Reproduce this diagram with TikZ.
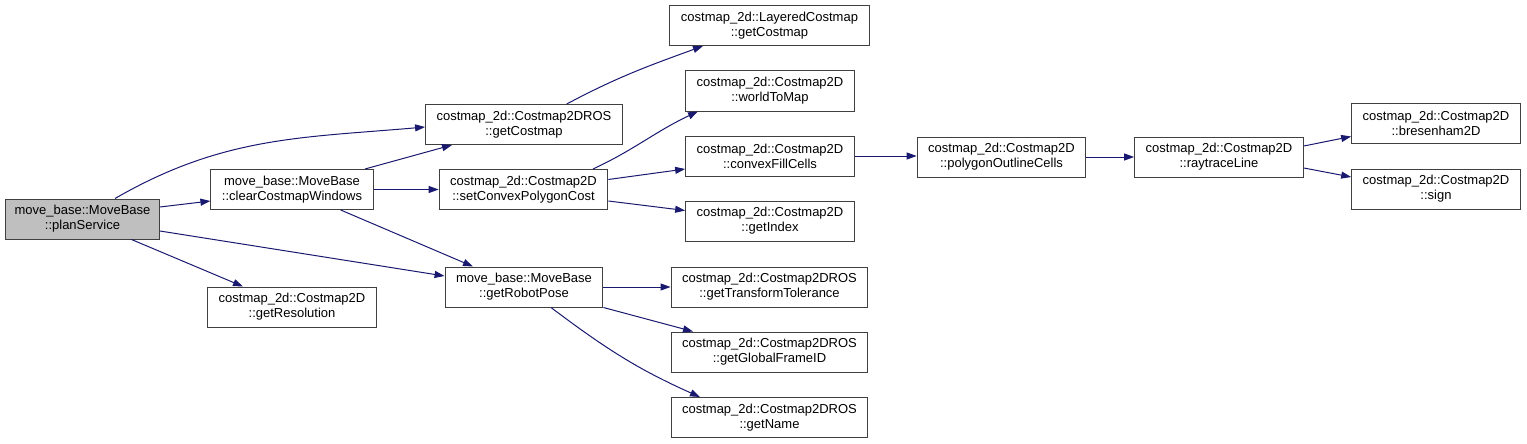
\documentclass[tikz,border=0pt]{standalone}
\usepackage{fontspec}
\setmainfont{Liberation Sans}
\usepackage{tikz}
\usetikzlibrary{arrows.meta}
\definecolor{calledge}{HTML}{191970}
\definecolor{mainfill}{HTML}{BFBFBF}

\begin{document}
\begin{tikzpicture}
 [x=1pt, y=-1pt, >={Triangle[length=10pt,width=7pt]},
  main node/.style={rectangle,fill=mainfill,draw=black!75,line width=1pt,align=center,
    minimum height=40pt,inner xsep=11pt,font=\fontsize{13}{15}\selectfont},
  normal node/.style={main node,fill=white},
  call edge/.style={->,draw=calledge,line width=1pt}]

\useasboundingbox (0,0) rectangle (1527,444);

\node[main node, inner xsep=9pt] (plan) at (82.5,219) {move\_base::MoveBase\\::planService};
\node[normal node] (clear) at (292,189.5) {move\_base::MoveBase\\::clearCostmapWindows};
\node[normal node] (res) at (292,307) {costmap\_2d::Costmap2D\\::getResolution};
\node[normal node] (rosmap) at (524,124.5) {costmap\_2d::Costmap2DROS\\::getCostmap};
\node[normal node] (setcost) at (523.5,189.5) {costmap\_2d::Costmap2D\\::setConvexPolygonCost};
\node[normal node] (pose) at (524,287) {move\_base::MoveBase\\::getRobotPose};
\node[normal node] (layered) at (769.5,25.5) {costmap\_2d::LayeredCostmap\\::getCostmap};
\node[normal node] (w2m) at (770,91) {costmap\_2d::Costmap2D\\::worldToMap};
\node[normal node] (fill) at (770,156) {costmap\_2d::Costmap2D\\::convexFillCells};
\node[normal node] (index) at (770,221) {costmap\_2d::Costmap2D\\::getIndex};
\node[normal node] (tol) at (769.5,287) {costmap\_2d::Costmap2DROS\\::getTransformTolerance};
\node[normal node] (frame) at (769.5,352) {costmap\_2d::Costmap2DROS\\::getGlobalFrameID};
\node[normal node] (name) at (769.5,417.5) {costmap\_2d::Costmap2DROS\\::getName};
\node[normal node] (outline) at (1001.5,157) {costmap\_2d::Costmap2D\\::polygonOutlineCells};
\node[normal node] (ray) at (1219,157) {costmap\_2d::Costmap2D\\::raytraceLine};
\node[normal node] (bres) at (1436,123.5) {costmap\_2d::Costmap2D\\::bresenham2D};
\node[normal node] (sign) at (1436,189) {costmap\_2d::Costmap2D\\::sign};

\path
  ([xshift=32.5pt]plan.north) edge [call edge, out=30, in=185] ([yshift=-2.5pt]rosmap.west)
  ([yshift=12pt]plan.east) edge [call edge] ([yshift=-11.5pt]clear.west)
  ([yshift=-12pt]plan.east) edge [call edge] ([yshift=11pt]pose.west)
  ([xshift=49pt]plan.south) edge [call edge] ([xshift=-49pt]res.north)
  ([xshift=73pt]clear.north) edge [call edge] ([xshift=-72pt]rosmap.south)
  (clear.east) edge [call edge] (setcost.west)
  ([xshift=48.7pt]clear.south) edge [call edge] ([xshift=-51pt]pose.north)
  ([xshift=69.5pt]setcost.north) edge [call edge, out=25, in=205] ([xshift=-72pt]w2m.south)
  ([yshift=10pt]setcost.east) edge [call edge] ([yshift=-13pt]fill.west)
  ([yshift=-11.5pt]setcost.east) edge [call edge] ([yshift=10.5pt]index.west)
  ([xshift=42.7pt]rosmap.north) edge [call edge, out=28, in=200] ([xshift=-66.5pt]layered.south)
  (fill.east) edge [call edge] (fill.east -| outline.west)
  (outline.east) edge [call edge] (ray.west)
  ([yshift=11pt]ray.east) edge [call edge] ([yshift=-13pt]bres.west)
  ([yshift=-11pt]ray.east) edge [call edge] ([yshift=12pt]sign.west)
  (pose.east) edge [call edge] (tol.west)
  (pose.south east) edge [call edge] ([xshift=-76.5pt]frame.north)
  ([xshift=27pt]pose.south) edge [call edge, out=-37, in=156] ([xshift=-69.5pt]name.north);

\end{tikzpicture}
\end{document}
